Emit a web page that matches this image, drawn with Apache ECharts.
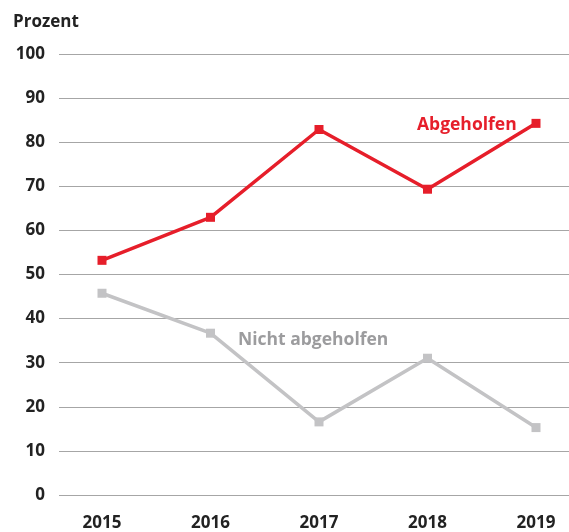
<!DOCTYPE html>
<html lang="de">
<head>
<meta charset="UTF-8">
<title>Prozent</title>
<script src="https://cdn.jsdelivr.net/npm/echarts@6/dist/echarts.min.js"></script>
<style>
  html, body { margin: 0; padding: 0; background: #fff; }
  #app { width: 569px; height: 532px; }
</style>
</head>
<body>
<div id="app"></div>
<script>
  const years = ['2015', '2016', '2017', '2018', '2019']
  const abgeholfen = [53.0, 62.8, 82.8, 69.2, 84.2]
  const nichtAbgeholfen = [45.5, 36.4, 16.2, 30.7, 14.9]
  const yTicks = [0, 10, 20, 30, 40, 50, 60, 70, 80, 90, 100]

  const font = '"Open Sans", sans-serif'
  const red = '#e61e2a'
  const grey = '#c3c3c5'

  let mCharts = echarts.init(document.getElementById('app'))
  let option = {
    backgroundColor: '#fff',
    textStyle: { fontFamily: font },
    grid: [
      // background grid: gridlines + y labels
      { left: 59, right: 0, top: 54, bottom: 37 },
      // data grid
      { left: 102, right: 33, top: 54, bottom: 37 }
    ],
    xAxis: [
      { gridIndex: 0, type: 'value', show: false, min: 0, max: 1 },
      {
        gridIndex: 1, type: 'category', data: years, boundaryGap: false,
        axisLine: { show: false }, axisTick: { show: false },
        axisLabel: { margin: 22, color: '#222', fontSize: 17, fontWeight: 700, fontFamily: font }
      }
    ],
    yAxis: [
      {
        gridIndex: 0, type: 'value', min: yTicks[0], max: yTicks[yTicks.length - 1], interval: 10,
        axisLine: { show: false }, axisTick: { show: false },
        axisLabel: { margin: 14, color: '#222', fontSize: 17, fontWeight: 700, fontFamily: font },
        splitLine: { lineStyle: { color: '#a6a6a6', width: 1 } }
      },
      { gridIndex: 1, type: 'value', min: 0, max: 100, show: false, splitLine: { show: false } }
    ],
    graphic: [
      { type: 'text', left: 13, top: 14, style: { text: 'Prozent', fill: '#222', font: '700 17px ' + font } },
      { type: 'text', left: 417, top: 116, style: { text: 'Abgeholfen', fill: red, font: '700 17.5px ' + font } },
      { type: 'text', left: 238, top: 331, style: { text: 'Nicht abgeholfen', fill: '#9c9c9e', font: '700 17.5px ' + font } }
    ],
    series: [
      {
        name: 'Abgeholfen', type: 'line', xAxisIndex: 1, yAxisIndex: 1,
        data: abgeholfen, symbol: 'rect', symbolSize: 9, z: 3,
        lineStyle: { color: red, width: 3.5 }, itemStyle: { color: red }
      },
      {
        name: 'Nicht abgeholfen', type: 'line', xAxisIndex: 1, yAxisIndex: 1,
        data: nichtAbgeholfen, symbol: 'rect', symbolSize: 9, z: 2,
        lineStyle: { color: grey, width: 3.5 }, itemStyle: { color: grey }
      }
    ],
    animation: false
  }
  mCharts.setOption(option)
</script>
</body>
</html>
